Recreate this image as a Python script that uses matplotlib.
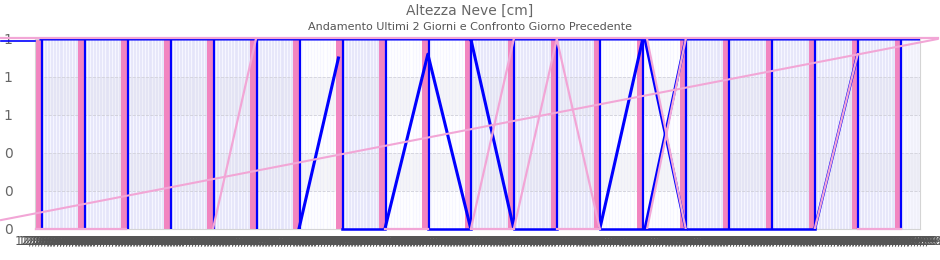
import numpy as np
import matplotlib.pyplot as plt
from matplotlib.ticker import FormatStrFormatter, MultipleLocator

nan = np.nan

# day boundaries (one column per block of samples)
days = np.arange(21)

# blue series (ultimi 2 giorni), pieces separated by nan
blue_x = [0, 20.45, nan,
          6, 6.92, nan,
          8, 9, 10, nan,
          10, 11, nan,
          13, 14, nan,
          14.05, 15, nan,
          14.05, 15, nan,
          18, 19]
blue_y = [1, 1, nan,
          0, 0.9, nan,
          0, 0.92, 0, nan,
          1, 0, nan,
          0, 1, nan,
          1, 0, nan,
          0, 1, nan,
          0, 0.92]
blue_bottom = [(7, 8), (9, 10), (11, 12), (13, 15), (15.05, 18)]

# pink series (giorno precedente)
pink_x = [4, 5, nan,
          10, 11, nan,
          11, 12, 13, nan,
          14.1, 15, nan,
          14.1, 15, nan,
          18, 19]
pink_y = [0, 1, nan,
          0, 1, nan,
          0, 1, 0, nan,
          0, 1, nan,
          1, 0, nan,
          0, 0.92]
pink_bottom = [(-0.12, 1.97), (8, 9), (10, 11), (12, 13), (19, 20)]

# trend line running across the whole figure
trend_x = [-0.93, 20.86]
trend_y = [0.047, 1.0]

# columns with lavender background
shaded = [0, 1, 2, 3, 4, 5, 7, 10, 11, 12, 15, 16, 17, 18, 19]

# crowded x tick labels
tick_step = 1 / 14.
tick_pos = np.arange(0, 20.45, tick_step)
tick_lab = ["%02d/06/99" % (12 + int(p) % 19) for p in tick_pos]

BLUE = '#0000ff'
PINK = '#f285c0'
PINK_L = '#f2a6d6'

fig = plt.figure(figsize=(9.4, 2.6), dpi=100)
ax = fig.add_axes([35/940., 31/260., 885/940., 190/260.])

for s in shaded:
    ax.axvspan(s, s + 1, color='#e4e4fa', lw=0, zorder=0)
ax.axvspan(20, 20.45, color='#f0f0fa', lw=0, zorder=0)

# light bands on alternating rows
for lo in (0.2, 0.6):
    ax.axhspan(lo, lo + 0.2, color='#dddde6', alpha=0.25, lw=0, zorder=1.5)

ax.set_xlim(-0.14, 20.45)
ax.set_ylim(0, 1)

ax.set_xticks(tick_pos)
ax.set_xticklabels(tick_lab, fontsize=8.5, color='#555555')
ax.grid(True, axis='x', color='#f6f6ff', lw=1.0, zorder=1)
ax.yaxis.set_major_locator(MultipleLocator(0.2))
ax.yaxis.set_major_formatter(FormatStrFormatter('%.0f'))
ax.grid(True, axis='y', ls='--', lw=0.6, color='#cfcfd8', zorder=1.6)
ax.set_axisbelow(True)
ax.tick_params(axis='y', length=0, pad=16, labelsize=10, labelcolor='#666666')
ax.tick_params(axis='x', length=0, pad=4)
for sp in ax.spines.values():
    sp.set_color('#d4d4d4')

# pink bars at each block boundary
ax.bar(days - 0.07, np.ones(len(days)), width=0.14, color=PINK, zorder=2)

# blue lines
ax.vlines(days + 0.015, 0, 1, color=BLUE, lw=1.6, zorder=3)
ax.plot(blue_x, blue_y, color=BLUE, lw=2.2, zorder=3)
for a, b in blue_bottom:
    ax.plot([a, b], [0, 0], color=BLUE, lw=1.8, zorder=3, clip_on=False)

# pink lines
ax.plot(pink_x, pink_y, color=PINK_L, lw=1.6, zorder=3.5)
for a, b in pink_bottom:
    ax.plot([a, b], [0, 0], color=PINK_L, lw=1.6, zorder=3.5, clip_on=False)
ax.plot([-0.93, 20.86], [1.005, 1.005], color=PINK_L, lw=1.6, zorder=3.5, clip_on=False)
ax.plot([-0.93, -0.14], [0.99, 0.99], color=BLUE, lw=1.2, zorder=3.4, clip_on=False)
ax.plot(trend_x, trend_y, color=PINK_L, lw=1.5, zorder=3.5, clip_on=False)

fig.text(0.5, 0.96, 'Altezza Neve [cm]', ha='center', va='center', fontsize=10, color='#666666')
fig.text(0.5, 0.895, 'Andamento Ultimi 2 Giorni e Confronto Giorno Precedente',
         ha='center', va='center', fontsize=8, color='#555555')

fig.savefig('out.png', dpi=100)
